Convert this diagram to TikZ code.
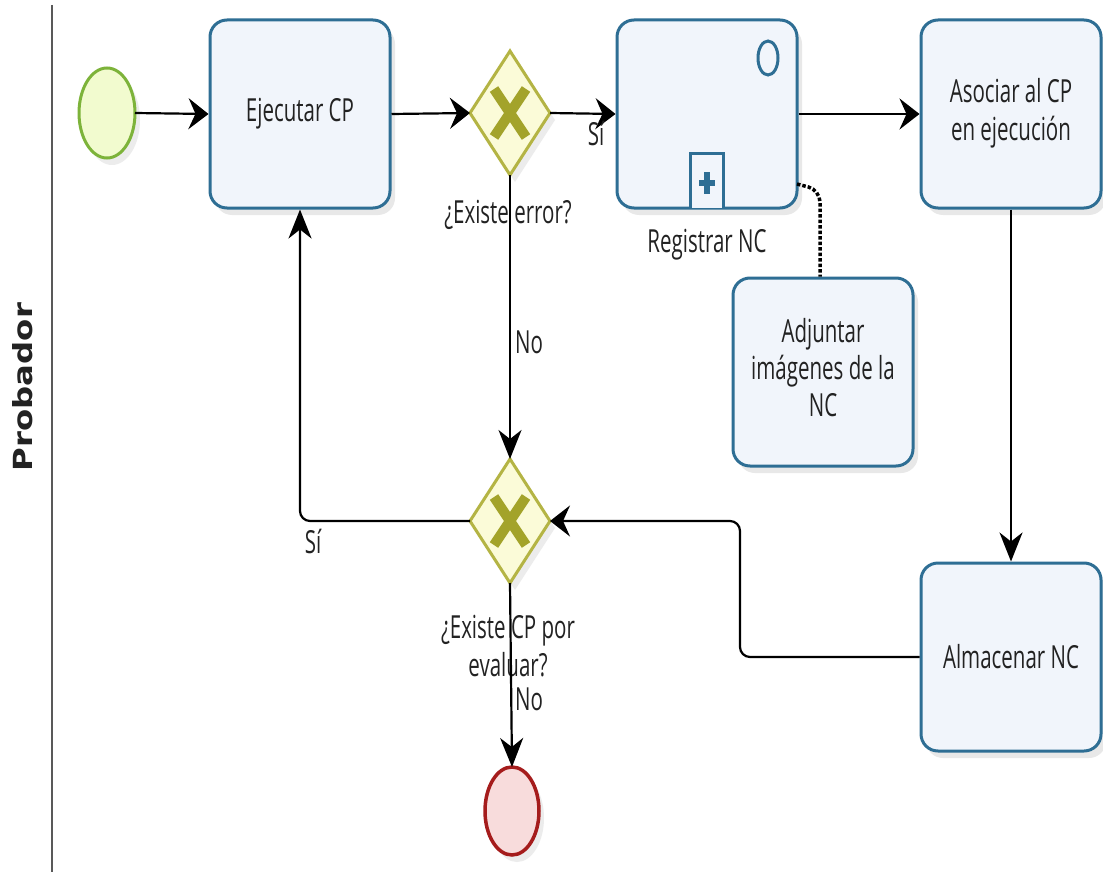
\documentclass[tikz,border=0pt]{standalone}
\usepackage{fontspec}
\setmainfont{Open Sans}
\newfontfamily\lanefont{DejaVu Sans}
\usepackage{graphicx}
\usetikzlibrary{arrows.meta,shadows,calc}

\definecolor{taskline}{HTML}{2E6E94}
\definecolor{taskfill}{HTML}{F1F5FB}
\definecolor{gwline}{HTML}{B4B444}
\definecolor{gwfill}{HTML}{FBFBD8}
\definecolor{gwmark}{HTML}{A3A32A}
\definecolor{startline}{HTML}{7DB33A}
\definecolor{startfill}{HTML}{F2FBCF}
\definecolor{endline}{HTML}{A51C1C}
\definecolor{endfill}{HTML}{F8DCDC}
\definecolor{txt}{HTML}{222222}

% tall text, as set by the modeller
\newcommand\tall[1]{\scalebox{1}[1.55]{#1}}

\tikzset{
  task/.style={draw=taskline, fill=taskfill, line width=3pt, rounded corners=17pt,
    minimum width=180pt, minimum height=188pt, inner sep=0pt, align=center,
    text=txt, font=\fontsize{20.5}{24}\selectfont,
    drop shadow={opacity=0.18, shadow xshift=5pt, shadow yshift=-7pt}},
  flow/.style={draw=black, line width=2.2pt, rounded corners=10pt},
  harrow/.style={-{Stealth[length=20pt,width=31pt,inset=7pt]}},
  varrow/.style={-{Stealth[length=29pt,width=23pt,inset=9pt]}},
  lbl/.style={text=txt, font=\fontsize{20.5}{24}\selectfont, inner sep=0pt},
  gwmarkline/.style={gwmark, line width=10pt}
}

\begin{document}
\begin{tikzpicture}[x=1pt,y=-1pt]
\useasboundingbox (0,0) rectangle (1103,872);
\fill[white] (0,0) rectangle (1103,872);

% lane
\draw[gray!70!black, line width=1.5pt] (52,5) -- (52,872);
\node[rotate=90, inner sep=0pt, text=txt] (lane) at (23,387)
  {\resizebox{168pt}{20pt}{\lanefont\bfseries Probador}};

% start and end events
\path[fill=startfill, draw=startline, line width=3pt,
  drop shadow={opacity=0.15, shadow xshift=5pt, shadow yshift=-7pt}]
  (107,113) ellipse [x radius=28pt, y radius=45pt];
\coordinate (start) at (107,113);
\coordinate (startE) at (135,113);
\path[fill=endfill, draw=endline, line width=3.5pt,
  drop shadow={opacity=0.15, shadow xshift=5pt, shadow yshift=-7pt}]
  (512,811) ellipse [x radius=27pt, y radius=44pt];
\coordinate (endev) at (512,811);
\coordinate (endN) at (512,767);

% tasks
\node[task] (ejec) at (300,114) {\raisebox{-3pt}{\tall{Ejecutar CP}}};
\node[task] (reg) at (707,114) {};
\node[task] (asoc) at (1011,114) {\tall{\begin{tabular}{@{}c@{}}Asociar al CP\\en ejecución\end{tabular}}};
\node[task] (adj) at (823,372) {\tall{\begin{tabular}{@{}c@{}}Adjuntar\\imágenes de la\\NC\end{tabular}}};
\node[task] (alm) at (1011,657) {\tall{Almacenar NC}};

% event marker and subprocess marker of Registrar NC
\draw[taskline, line width=3pt] (768,58) ellipse [x radius=10pt, y radius=17pt];
\draw[taskline, line width=3pt, fill=taskfill] (690,208) -- (690,154) -- (723,154) -- (723,208);
\draw[taskline, line width=6pt] (699,183) -- (715,183) (707,172) -- (707,194);
\node[lbl] (reglbl) at (707,245) {\tall{Registrar NC}};

% gateways
\foreach \n/\cy in {gw1/113, gw2/521}{
  \path[fill=gwfill, draw=gwline, line width=3pt,
    drop shadow={opacity=0.15, shadow xshift=5pt, shadow yshift=-7pt}]
    (510,\cy-62) -- (550,\cy) -- (510,\cy+62) -- (470,\cy) -- cycle;
  \draw[gwmarkline] (494,\cy-24) -- (526,\cy+24) (526,\cy-24) -- (494,\cy+24);
  \coordinate (\n) at (510,\cy);
  \coordinate (\n N) at (510,\cy-62);
  \coordinate (\n S) at (510,\cy+62);
  \coordinate (\n E) at (550,\cy);
  \coordinate (\n W) at (470,\cy);
}
\node[lbl] (gw1lbl) at (508,215) {\tall{¿Existe error?}};
\node[lbl, align=center] (gw2lbl) at (508,650) {\tall{\begin{tabular}{@{}c@{}}¿Existe CP por\\evaluar?\end{tabular}}};

% sequence flows
\draw[flow, harrow] (startE) -- (ejec.west);
\draw[flow, harrow] (ejec.east) -- (gw1W);
\draw[flow, harrow] (gw1E) -- (reg.west);
\draw[flow, harrow] (reg.east) -- (asoc.west);
\draw[flow, varrow] (asoc.south) -- (alm.north);
\draw[flow, harrow] (alm.west) -- (740,657) -- (740,521) -- (gw2E);
\draw[flow, varrow] (gw1S) -- (gw2N);
\draw[flow, varrow] (gw2W) -- (300,521) -- (ejec.south);
\draw[flow, varrow] (gw2S) -- (endN);

% flow labels
\node[lbl] (si1) at (596,133) {\tall{Sí}};
\node[lbl] (no1) at (529,342) {\tall{No}};
\node[lbl] (si2) at (313,541) {\tall{Sí}};
\node[lbl] (no2) at (529,699) {\tall{No}};

% association to the annotation task
\coordinate (assocS) at (797,184);
\draw[black, line width=3.5pt, dotted, rounded corners=12pt] (assocS) -- (820,190) -- (adj.north -| 820,0);
\end{tikzpicture}
\end{document}
